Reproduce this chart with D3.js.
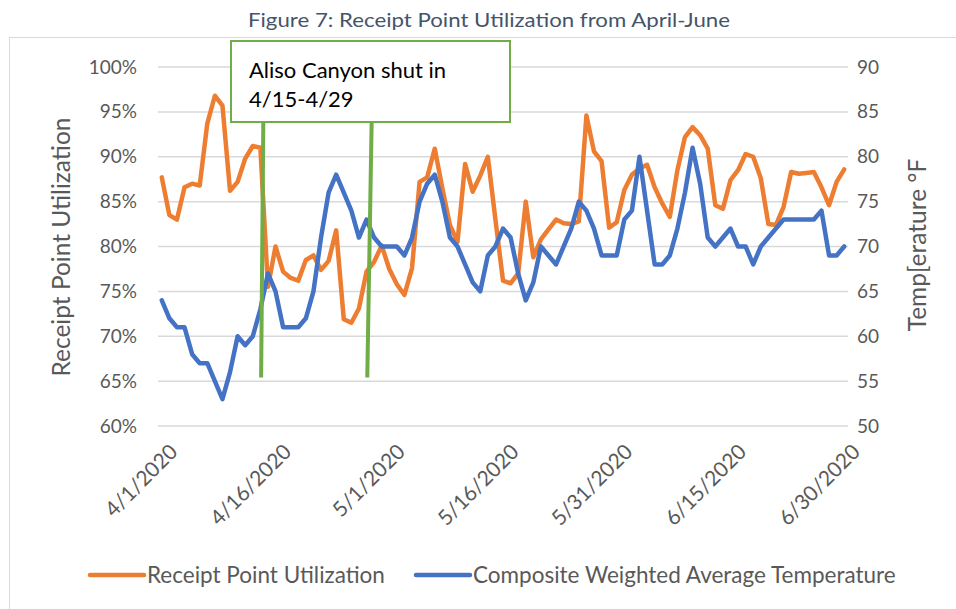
<!DOCTYPE html>
<html>
<head>
<meta charset="utf-8">
<script src="https://cdn.jsdelivr.net/npm/d3@7"></script>
<style>
  body { margin: 0; background: #fff; }
  svg text { font-family: Lato, "Open Sans", sans-serif; }
</style>
</head>
<body>
<svg id="chart" width="956" height="609"></svg>
<script>
// daily values 4/1/2020 .. 6/30/2020
const utilization = [
  87.7, 83.5, 83.0, 86.6, 87.0, 86.8, 93.7, 96.8, 95.7, 86.2,
  87.2, 89.8, 91.2, 91.0, 75.5, 80.0, 77.2, 76.5, 76.2, 78.5,
  79.0, 77.4, 78.4, 81.8, 71.9, 71.5, 73.1, 77.2, 78.3, 80.1,
  77.5, 75.8, 74.6, 77.6, 87.2, 87.7, 90.9, 86.5, 82.4, 80.5,
  89.2, 86.1, 87.9, 90.0, 83.0, 76.2, 75.9, 77.0, 85.0, 78.8,
  80.8, 81.9, 83.0, 82.6, 82.5, 82.8, 94.6, 90.6, 89.5, 82.1,
  82.7, 86.3, 88.0, 88.7, 89.1, 86.6, 84.8, 83.3, 88.5, 92.2,
  93.3, 92.4, 90.9, 84.6, 84.2, 87.4, 88.5, 90.3, 90.0, 87.6,
  82.5, 82.4, 84.4, 88.3, 88.1, 88.2, 88.3, 86.6, 84.6, 87.2,
  88.6
];
const temperature = [
  64, 62, 61, 61, 58, 57, 57, 55, 53, 56,
  60, 59, 60, 63, 67, 65, 61, 61, 61, 62,
  65, 71, 76, 78, 76, 74, 71, 73, 71, 70,
  70, 70, 69, 71, 75, 77, 78, 75, 71, 70,
  68, 66, 65, 69, 70, 72, 71, 67, 64, 66,
  70, 69, 68, 70, 72, 75, 74, 72, 69, 69,
  69, 73, 74, 80, 74, 68, 68, 69, 72, 76,
  81, 77, 71, 70, 71, 72, 70, 70, 68, 70,
  71, 72, 73, 73, 73, 73, 73, 74, 69, 69,
  70
];
const tickDays = [0, 15, 30, 45, 60, 75, 90];
const tickLabels = ['4/1/2020', '4/16/2020', '5/1/2020', '5/16/2020', '5/31/2020', '6/15/2020', '6/30/2020'];
const leftTicks = [60, 65, 70, 75, 80, 85, 90, 95, 100];
const rightTicks = [50, 55, 60, 65, 70, 75, 80, 85, 90];
// hand-drawn markers for the shut-in window (day index at top / bottom)
const shutMarks = [[13.4, 13.1], [27.7, 27.1]];

const svg = d3.select('#chart');
const x = d3.scaleLinear().domain([-0.5, 90.5]).range([158, 848]);
const yL = d3.scaleLinear().domain([60, 100]).range([426, 67]);
const yR = d3.scaleLinear().domain([50, 90]).range([426, 67]);

// chart border
svg.append('rect').attr('x', 9.5).attr('y', 37.5).attr('width', 960).attr('height', 600)
  .attr('fill', 'none').attr('stroke', '#d9d9d9').attr('stroke-width', 1);

// title
svg.append('text').attr('x', 489).attr('y', 27).attr('text-anchor', 'middle')
  .attr('font-size', 19).attr('fill', '#44546a')
  .attr('textLength', 482).attr('lengthAdjust', 'spacingAndGlyphs')
  .text('Figure 7: Receipt Point Utilization from April-June');

// gridlines
svg.append('g').selectAll('line').data(leftTicks).join('line')
  .attr('x1', 158).attr('x2', 848)
  .attr('y1', d => yL(d)).attr('y2', d => yL(d))
  .attr('stroke', '#d9d9d9').attr('stroke-width', 1.5);

// left axis
const axL = svg.append('g').attr('transform', 'translate(158,0)')
  .call(d3.axisLeft(yL).tickValues(leftTicks).tickSize(0).tickPadding(21).tickFormat(d => d + '%'));
axL.select('.domain').remove();
axL.selectAll('text').attr('font-size', 19).attr('fill', '#595959').attr('font-family', 'Lato');

// right axis
const axR = svg.append('g').attr('transform', 'translate(848,0)')
  .call(d3.axisRight(yR).tickValues(rightTicks).tickSize(0).tickPadding(9));
axR.select('.domain').remove();
axR.selectAll('text').attr('font-size', 19).attr('fill', '#595959').attr('font-family', 'Lato');

// x tick labels
svg.append('g').selectAll('text').data(tickDays).join('text')
  .attr('transform', d => `translate(${x(d) + 6},${442}) rotate(-45)`)
  .attr('text-anchor', 'end').attr('dy', '0.75em')
  .attr('font-size', 21).attr('fill', '#595959')
  .text((d, i) => tickLabels[i]);

// axis titles
svg.append('text').attr('transform', 'translate(70,247) rotate(-90)')
  .attr('text-anchor', 'middle').attr('font-size', 24.5).attr('fill', '#595959')
  .text('Receipt Point Utilization');
svg.append('text').attr('transform', 'translate(926,245) rotate(-90)')
  .attr('text-anchor', 'middle').attr('font-size', 24.5).attr('fill', '#595959')
  .text('Temp[erature °F');

// series
const days = d3.range(utilization.length);
svg.append('path').datum(days)
  .attr('d', d3.line().x(d => x(d)).y(d => yL(utilization[d])))
  .attr('fill', 'none').attr('stroke', '#ed7d31').attr('stroke-width', 4.5)
  .attr('stroke-linejoin', 'round').attr('stroke-linecap', 'round');
svg.append('path').datum(days)
  .attr('d', d3.line().x(d => x(d)).y(d => yR(temperature[d])))
  .attr('fill', 'none').attr('stroke', '#4472c4').attr('stroke-width', 4.5)
  .attr('stroke-linejoin', 'round').attr('stroke-linecap', 'round');

// annotation
svg.append('g').selectAll('line').data(shutMarks).join('line')
  .attr('x1', d => x(d[0])).attr('y1', yL(95))
  .attr('x2', d => x(d[1])).attr('y2', yL(65.4))
  .attr('stroke', '#70ad47').attr('stroke-width', 4);
svg.append('rect').attr('x', 231).attr('y', 41).attr('width', 279).attr('height', 81)
  .attr('fill', '#fff').attr('stroke', '#70ad47').attr('stroke-width', 2);
svg.append('text').attr('x', 249).attr('y', 78).attr('font-size', 22).attr('fill', '#000')
  .text('Aliso Canyon shut in');
svg.append('text').attr('x', 249).attr('y', 107).attr('font-size', 22).attr('fill', '#000')
  .text('4/15-4/29');

// legend
const legend = [
  { label: 'Receipt Point Utilization', color: '#ed7d31', x: 90 },
  { label: 'Composite Weighted Average Temperature', color: '#4472c4', x: 416 }
];
const lg = svg.append('g').selectAll('g').data(legend).join('g')
  .attr('transform', d => `translate(${d.x},575)`);
lg.append('line').attr('x1', 0).attr('x2', 54).attr('stroke', d => d.color)
  .attr('stroke-width', 4.5).attr('stroke-linecap', 'round');
lg.append('text').attr('x', 57).attr('dy', '0.35em').attr('font-size', 22.5).attr('fill', '#595959')
  .text(d => d.label);
</script>
</body>
</html>
